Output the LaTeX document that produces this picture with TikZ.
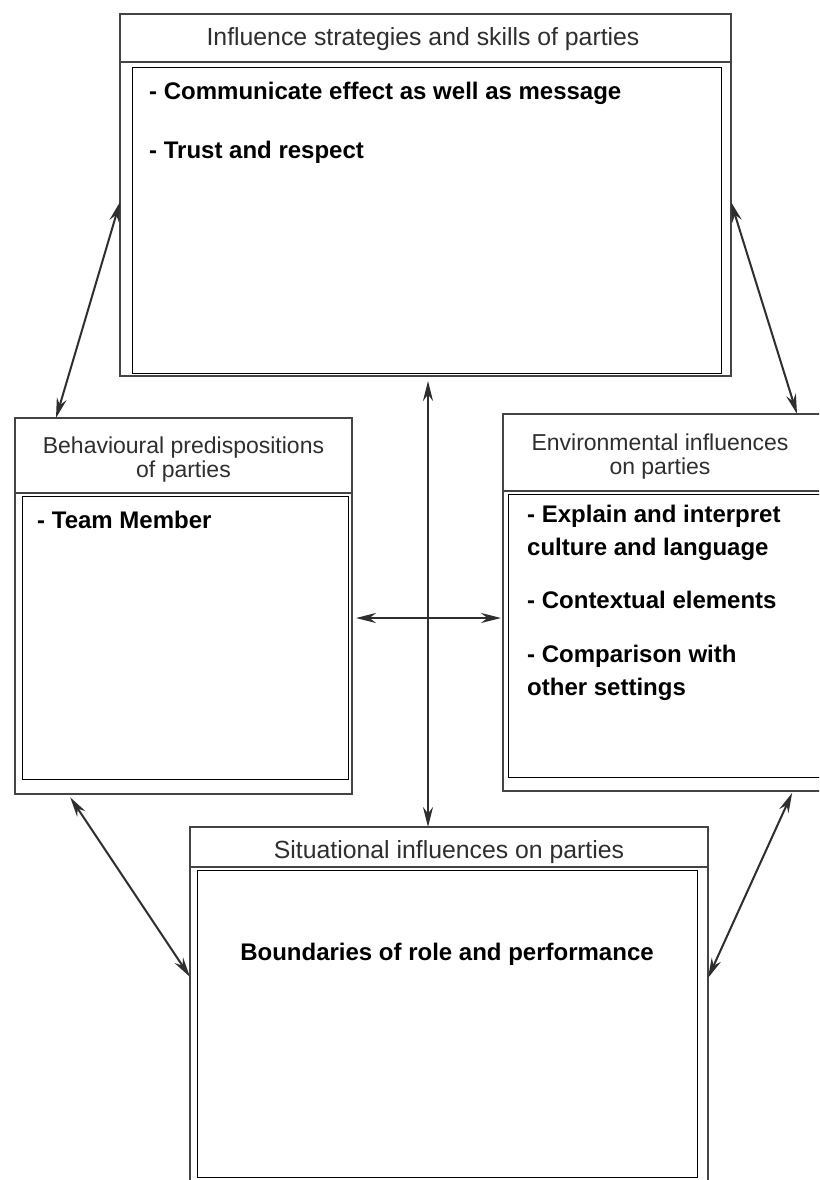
\documentclass[tikz,border=0pt]{standalone}
\usepackage{fontspec}
\setmainfont{Liberation Sans}
\usetikzlibrary{arrows.meta,calc}
\definecolor{edge}{HTML}{444444}
\definecolor{arrowc}{HTML}{2E2E2E}
\definecolor{hdrtext}{HTML}{2E2E2E}
\begin{document}
\begin{tikzpicture}[x=1pt,y=-1pt,
  outerbox/.style={draw=edge, line width=2.8pt, inner sep=0pt, outer sep=0pt, anchor=north west},
  innerbox/.style={draw=black, line width=0.9pt, inner sep=0pt, outer sep=0pt, anchor=north west},
  sepline/.style={draw=edge, line width=2.8pt},
  hdr/.style={font=\fontsize{23}{24}\selectfont, text=hdrtext, inner sep=0pt, anchor=base},
  hdrwide/.style={hdr, font=\fontsize{24.8}{26}\selectfont},
  body/.style={font=\fontsize{24}{30}\selectfont\bfseries, text=black, inner sep=0pt, anchor=base west},
  dbl/.style={{Stealth[length=20pt,width=10pt]}-{Stealth[length=20pt,width=10pt]}, line width=2pt, draw=arrowc}]
\clip (0,0) rectangle (819,1180);
\fill[white] (0,0) rectangle (819,1180);

% ---------- top box ----------
\node[outerbox, minimum width=611pt, minimum height=362pt] (top) at (120,14) {};
\draw[sepline] (top.west |- 0,62) -- (top.east |- 0,62);
\node[innerbox, minimum width=589pt, minimum height=306pt] (topin) at (132,67) {};
\node[hdrwide] (toph) at (423,46) {Influence strategies and skills of parties};
\node[body] (t1) at (149,100) {- Communicate effect as well as message};
\node[body] (t2) at (149,158) {- Trust and respect};

% ---------- left box ----------
\node[outerbox, minimum width=337pt, minimum height=376pt] (left) at (15,418) {};
\draw[sepline] (left.west |- 0,493) -- (left.east |- 0,493);
\node[innerbox, minimum width=326pt, minimum height=283pt] (leftin) at (22,496) {};
\node[hdr] (lefth1) at (183.5,453) {Behavioural predispositions};
\node[hdr] (lefth2) at (183.5,477) {of parties};
\node[body] (l1) at (37,528) {- Team Member};

% ---------- right box ----------
\node[outerbox, minimum width=340pt, minimum height=377pt] (right) at (503,414) {};
\draw[sepline] (right.west |- 0,491) -- (right.east |- 0,491);
\node[innerbox, minimum width=340pt, minimum height=283pt] (rightin) at (508,494) {};
\node[hdr] (righth1) at (660,450) {Environmental influences};
\node[hdr] (righth2) at (660,474) {on parties};
\node[body] (r1) at (527,522) {- Explain and interpret};
\node[body] (r2) at (527,555) {culture and language};
\node[body] (r3) at (527,608) {- Contextual elements};
\node[body] (r4) at (527,662) {- Comparison with};
\node[body] (r5) at (527,695) {other settings};

% ---------- bottom box ----------
\node[outerbox, minimum width=518pt, minimum height=420pt] (bottom) at (190,827) {};
\draw[sepline] (bottom.west |- 0,867) -- (bottom.east |- 0,867);
\node[innerbox, minimum width=500pt, minimum height=307pt] (bottomin) at (197,870) {};
\node[hdrwide] (bottomh) at (449,858) {Situational influences on parties};
\node[body, anchor=base] (b1) at (447,960) {Boundaries of role and performance};

% ---------- connectors ----------
\draw[dbl] (top.west |- 0,202) -- (left.north -| 56,0);
\draw[dbl] (top.east |- 0,202) -- (right.north -| 797,0);
\draw[dbl, shorten <=5pt] (top.south -| 428,0) -- (bottom.north -| 428,0);
\draw[dbl, shorten <=4pt, shorten >=2pt] (left.east |- 0,618) -- (right.west |- 0,618);
\draw[dbl, shorten <=4pt] (left.south -| 68,0) -- (bottom.west |- 0,977);
\draw[dbl, shorten <=2pt] (right.south -| 793,0) -- (bottom.east |- 0,978);
\end{tikzpicture}
\end{document}
